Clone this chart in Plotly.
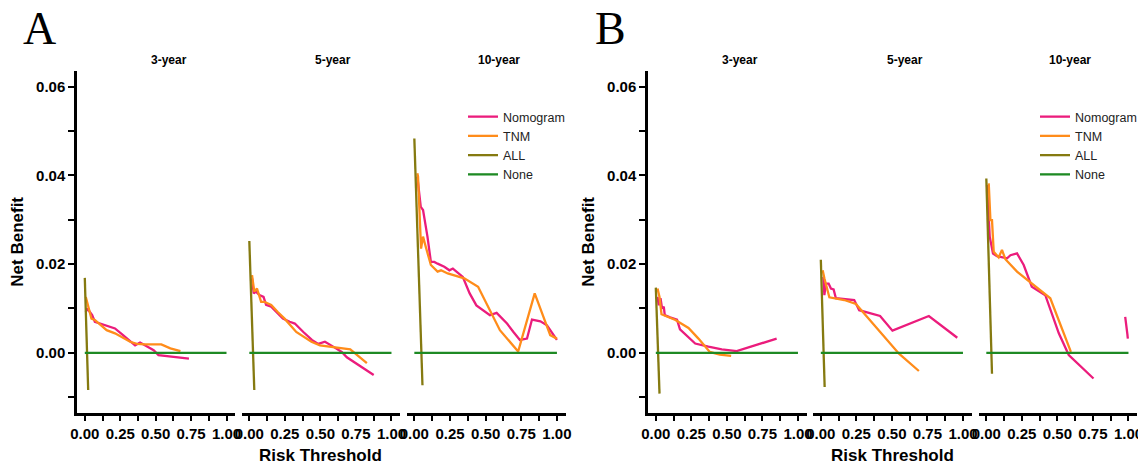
import plotly.graph_objects as go

# the page adds an 8px body margin; the figure is sized/positioned so that
# screen coordinates match the 1146x464 reference
OFF = 8
W, H = 1146 - OFF, 464 - OFF

# ---------------- data ----------------
series_names = ["Nomogram", "TNM", "ALL", "None"]
panel_labels = ["A", "B"]
facet_titles = ["3-year", "5-year", "10-year"]
x_tick_vals = [0, 0.25, 0.5, 0.75, 1.0]
y_tick_vals = [0.0, 0.02, 0.04, 0.06]

none_x = [0.0, 1.0]
none_y = [0.0, 0.0]

# Panel A, 3-year
a3_nom_x = [0.007, 0.017, 0.036, 0.052, 0.071, 0.107, 0.142, 0.213, 0.27, 0.31, 0.355, 0.39, 0.438, 0.486, 0.52, 0.59, 0.735]
a3_nom_y = [0.0092, 0.0100, 0.0092, 0.0085, 0.0070, 0.0066, 0.0062, 0.0055, 0.0040, 0.0029, 0.0017, 0.0023, 0.0015, 0.0006, -0.0005, -0.0008, -0.0013]
a3_tnm_x = [0.007, 0.019, 0.028, 0.047, 0.071, 0.154, 0.213, 0.26, 0.32, 0.367, 0.427, 0.54, 0.604, 0.675]
a3_tnm_y = [0.0126, 0.0111, 0.0096, 0.0077, 0.0074, 0.0051, 0.0044, 0.0036, 0.0025, 0.0020, 0.0019, 0.0019, 0.0010, 0.0004]
a3_all_x = [0.0, 0.024]
a3_all_y = [0.0169, -0.0084]

# Panel A, 5-year
a5_nom_x = [0.019, 0.031, 0.047, 0.071, 0.10, 0.118, 0.154, 0.20, 0.236, 0.284, 0.32, 0.38, 0.44, 0.485, 0.532, 0.59, 0.65, 0.686, 0.768, 0.875]
a5_nom_y = [0.0168, 0.0134, 0.0138, 0.0130, 0.0126, 0.0108, 0.0104, 0.0089, 0.0077, 0.0070, 0.0066, 0.0047, 0.0029, 0.0020, 0.0025, 0.0014, 0.0002, -0.0010, -0.0028, -0.0050]
a5_tnm_x = [0.019, 0.028, 0.035, 0.054, 0.083, 0.106, 0.154, 0.20, 0.248, 0.33, 0.437, 0.497, 0.60, 0.71, 0.827]
a5_tnm_y = [0.0175, 0.0156, 0.0138, 0.0145, 0.0115, 0.0115, 0.0108, 0.0092, 0.0077, 0.0047, 0.0025, 0.0017, 0.0012, 0.0008, -0.0023]
a5_all_x = [0.0, 0.035]
a5_all_y = [0.0252, -0.0084]

# Panel A, 10-year
a10_nom_x = [0.021, 0.045, 0.061, 0.092, 0.116, 0.14, 0.163, 0.21, 0.246, 0.27, 0.34, 0.388, 0.435, 0.53, 0.577, 0.65, 0.695, 0.74, 0.79, 0.825, 0.884, 0.93, 1.0]
a10_nom_y = [0.0397, 0.0329, 0.0322, 0.0262, 0.0205, 0.0205, 0.0201, 0.0194, 0.0186, 0.0190, 0.0171, 0.0134, 0.0107, 0.0085, 0.0090, 0.0066, 0.0047, 0.0029, 0.0032, 0.0075, 0.0071, 0.0062, 0.0029]
a10_tnm_x = [0.021, 0.026, 0.047, 0.061, 0.08, 0.116, 0.163, 0.187, 0.234, 0.35, 0.447, 0.54, 0.60, 0.728, 0.844, 0.953, 1.0]
a10_tnm_y = [0.0405, 0.0397, 0.0235, 0.0262, 0.0239, 0.0198, 0.0183, 0.0186, 0.0179, 0.0168, 0.0149, 0.0089, 0.0051, 0.0003, 0.0134, 0.0040, 0.0032]
a10_all_x = [0.0, 0.057]
a10_all_y = [0.0483, -0.0073]

# Panel B, 3-year
b3_nom_x = [0.012, 0.021, 0.033, 0.044, 0.056, 0.063, 0.10, 0.149, 0.17, 0.22, 0.277, 0.37, 0.464, 0.569, 0.627, 0.85]
b3_nom_y = [0.0126, 0.0107, 0.0123, 0.0100, 0.0104, 0.0085, 0.0080, 0.0075, 0.0053, 0.0038, 0.0021, 0.0014, 0.0008, 0.0004, 0.0010, 0.0032]
b3_tnm_x = [0.012, 0.026, 0.04, 0.138, 0.23, 0.30, 0.38, 0.45, 0.53]
b3_tnm_y = [0.0145, 0.0126, 0.0087, 0.0074, 0.0056, 0.0032, 0.0002, -0.0004, -0.0007]
b3_all_x = [0.0, 0.026]
b3_all_y = [0.0147, -0.0092]

# Panel B, 5-year
b5_nom_x = [0.018, 0.025, 0.036, 0.055, 0.071, 0.09, 0.106, 0.235, 0.27, 0.417, 0.504, 0.76, 0.96]
b5_nom_y = [0.0171, 0.0130, 0.0156, 0.0156, 0.0145, 0.0143, 0.0123, 0.0119, 0.0096, 0.0083, 0.0050, 0.0083, 0.0034]
b5_tnm_x = [0.013, 0.025, 0.06, 0.165, 0.247, 0.55, 0.69]
b5_tnm_y = [0.0186, 0.0168, 0.0125, 0.0119, 0.0110, -0.0002, -0.0041]
b5_all_x = [0.0, 0.027]
b5_all_y = [0.0210, -0.0077]

# Panel B, 10-year
b10_nom_x = [0.005, 0.024, 0.047, 0.075, 0.146, 0.17, 0.216, 0.263, 0.32, 0.415, 0.51, 0.58, 0.754, None, 0.977, 0.996]
b10_nom_y = [0.0378, 0.0262, 0.0224, 0.0218, 0.0213, 0.0220, 0.0224, 0.0198, 0.0149, 0.0130, 0.0044, -0.0005, -0.0058, None, 0.0081, 0.0032]
b10_tnm_x = [0.017, 0.029, 0.04, 0.052, 0.087, 0.11, 0.134, 0.216, 0.45, 0.595]
b10_tnm_y = [0.0382, 0.0299, 0.0299, 0.0228, 0.0215, 0.0232, 0.0211, 0.0183, 0.0123, 0.0002]
b10_all_x = [0.0, 0.04]
b10_all_y = [0.0393, -0.0047]

# ---------------- style ----------------
colors = {"Nomogram": "#EB1C7C", "TNM": "#FF8C1A", "ALL": "#857A10", "None": "#1E8A24"}
SANS = "Liberation Sans, Arial, sans-serif"
SERIF = "Liberation Serif, Times New Roman, serif"

def fx(px):
    return (px - OFF) / W

def fy(py):
    return 1 - (py - OFF) / H

# facet pixel extents (screen pixels)
facet_px = [
    [(77, 235), (241.5, 400), (406.5, 565.5)],
    [(648, 806.5), (813, 971.5), (978.5, 1137)],
]
y_top, y_bot = 70.7, 412.7
XR = [-0.055, 1.06]
YR = [-0.0135, 0.0636]

panels = [
    [
        (a3_nom_x, a3_nom_y, a3_tnm_x, a3_tnm_y, a3_all_x, a3_all_y),
        (a5_nom_x, a5_nom_y, a5_tnm_x, a5_tnm_y, a5_all_x, a5_all_y),
        (a10_nom_x, a10_nom_y, a10_tnm_x, a10_tnm_y, a10_all_x, a10_all_y),
    ],
    [
        (b3_nom_x, b3_nom_y, b3_tnm_x, b3_tnm_y, b3_all_x, b3_all_y),
        (b5_nom_x, b5_nom_y, b5_tnm_x, b5_tnm_y, b5_all_x, b5_all_y),
        (b10_nom_x, b10_nom_y, b10_tnm_x, b10_tnm_y, b10_all_x, b10_all_y),
    ],
]

fig = go.Figure()
layout = {}
annotations = []

axis_common = dict(
    showline=True, linecolor="black", linewidth=2.5, mirror=False,
    showgrid=False, zeroline=False, ticks="outside", ticklen=6, tickwidth=2,
    tickcolor="black", tickangle=0, automargin=False,
    tickfont=dict(family=SANS, size=15, color="black", weight="bold"),
)

for p in range(2):
    yname = "yaxis" if p == 0 else "yaxis2"
    yref = "y" if p == 0 else "y2"
    first_x_idx = p * 3 + 1
    layout[yname] = dict(
        axis_common,
        domain=[fy(y_bot), fy(y_top)], range=YR,
        anchor="x" if first_x_idx == 1 else f"x{first_x_idx}",
        tick0=0, dtick=0.02, tickformat=".2f",
        minor=dict(dtick=0.01, tick0=0, ticks="outside", ticklen=6, tickwidth=2, tickcolor="black"),
    )
    legend_name = "legend" if p == 0 else "legend2"
    for f in range(3):
        idx = p * 3 + f + 1
        xname = "xaxis" if idx == 1 else f"xaxis{idx}"
        xref = "x" if idx == 1 else f"x{idx}"
        x0, x1 = facet_px[p][f]
        layout[xname] = dict(
            axis_common,
            domain=[fx(x0), fx(x1)], range=XR, anchor=yref,
            tick0=0, dtick=0.25, tickformat=".2f",
            minor=dict(dtick=0.125, tick0=0, ticks="outside", ticklen=6, tickwidth=2, tickcolor="black"),
        )
        nx, ny, tx, ty, ax_, ay_ = panels[p][f]
        show = (f == 0)
        for name, xs, ys in [("Nomogram", nx, ny), ("TNM", tx, ty), ("ALL", ax_, ay_), ("None", none_x, none_y)]:
            fig.add_trace(go.Scatter(
                x=xs, y=ys, mode="lines", name=name,
                line=dict(color=colors[name], width=2.3),
                xaxis=xref, yaxis=yref, showlegend=show, legend=legend_name,
                connectgaps=False,
            ))
        # facet title
        annotations.append(dict(
            text=facet_titles[f], xref="paper", yref="paper",
            x=fx((x0 + x1) / 2 + 12.5), y=fy(60), showarrow=False,
            xanchor="center", yanchor="middle",
            font=dict(family=SANS, size=12, color="black", weight="bold"),
        ))
    # panel letter
    px0 = facet_px[p][0][0]
    annotations.append(dict(
        text=panel_labels[p], xref="paper", yref="paper",
        x=fx(px0 - 38), y=fy(29), showarrow=False, xanchor="center", yanchor="middle",
        font=dict(family=SERIF, size=46, color="black"),
    ))
    # axis titles
    annotations.append(dict(
        text="Net Benefit", xref="paper", yref="paper",
        x=fx(px0 - 59), y=fy((y_top + y_bot) / 2), showarrow=False, textangle=-90,
        xanchor="center", yanchor="middle",
        font=dict(family=SANS, size=17, color="black", weight="bold"),
    ))
    mid = facet_px[p][1]
    annotations.append(dict(
        text="Risk Threshold", xref="paper", yref="paper",
        x=fx((mid[0] + mid[1]) / 2), y=fy(455), showarrow=False,
        xanchor="center", yanchor="middle",
        font=dict(family=SANS, size=17, color="black", weight="bold"),
    ))

legend_common = dict(
    xanchor="left", yanchor="top", bgcolor="rgba(0,0,0,0)",
    font=dict(family=SANS, size=12.5, color="#222222"),
    tracegroupgap=0, itemwidth=30,
)
layout["legend"] = dict(legend_common, x=fx(463), y=fy(102))
layout["legend2"] = dict(legend_common, x=fx(1035), y=fy(102))

fig.update_layout(
    width=W, height=H, margin=dict(l=0, r=0, t=0, b=0, autoexpand=False),
    paper_bgcolor="white", plot_bgcolor="white",
    annotations=annotations, **layout,
)

fig.write_html("out.html")
